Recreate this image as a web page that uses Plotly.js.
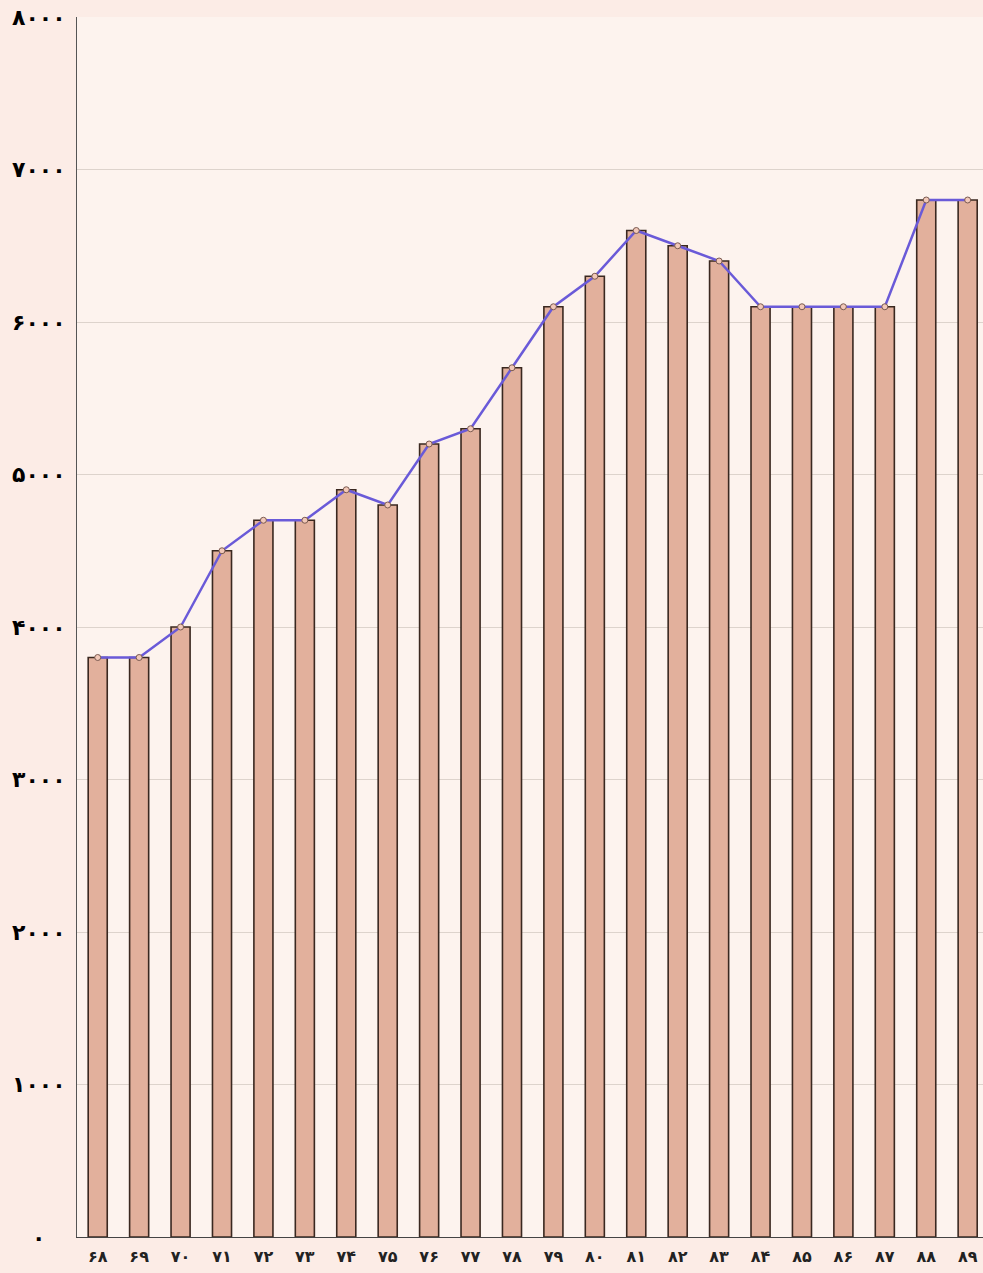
<!DOCTYPE html>
<html>
<head>
<meta charset="utf-8">
<script src="https://cdn.plot.ly/plotly-3.0.1.min.js"></script>
<style>html,body{margin:0;padding:0;background:#fcece6;overflow:hidden}</style>
</head>
<body>
<div id="chart" style="width:983px;height:1273px"></div>
<script>
const years = ['۶۸','۶۹','۷۰','۷۱','۷۲','۷۳','۷۴','۷۵','۷۶','۷۷','۷۸','۷۹','۸۰','۸۱','۸۲','۸۳','۸۴','۸۵','۸۶','۸۷','۸۸','۸۹'];
const values = [3800,3800,4000,4500,4700,4700,4900,4800,5200,5300,5700,6100,6300,6600,6500,6400,6100,6100,6100,6100,6800,6800];
const yTickVals = [0,1000,2000,3000,4000,5000,6000,7000,8000];
const yTickText = ['۰','۱۰۰۰','۲۰۰۰','۳۰۰۰','۴۰۰۰','۵۰۰۰','۶۰۰۰','۷۰۰۰','۸۰۰۰'];

const traces = [
  {
    type: 'bar', x: years, y: values, width: 0.46,
    marker: {color: '#e2b09c', line: {color: '#3a2820', width: 1.6}},
    hoverinfo: 'skip'
  },
  {
    type: 'scatter', mode: 'lines+markers', x: years, y: values,
    line: {color: '#6a5ad8', width: 2.5},
    marker: {size: 6, color: '#f2c8b8', line: {color: '#7a5a50', width: 1}}
  }
];
const annotations = yTickVals.map((v, i) => ({
  xref: 'paper', yref: 'y', x: -0.042, y: v,
  xanchor: 'center', yanchor: 'middle', showarrow: false,
  text: '<b>' + yTickText[i] + '</b>',
  font: {family: 'DejaVu Sans', size: 22, color: '#000'}
}));
const layout = {
  width: 983, height: 1273,
  margin: {l: 77, r: 0, t: 17, b: 36},
  paper_bgcolor: '#fcece6',
  plot_bgcolor: '#fdf3ee',
  showlegend: false,
  font: {family: 'DejaVu Sans', color: '#000'},
  annotations: annotations,
  xaxis: {
    type: 'category', range: [-0.5, 21.37],
    showgrid: false, zeroline: false,
    showline: true, linecolor: '#444', linewidth: 1.2,
    ticks: '', ticklen: 0, ticklabelstandoff: 5,
    tickfont: {family: 'DejaVu Sans', size: 16, color: '#222', weight: 'bold'},
    fixedrange: true
  },
  yaxis: {
    range: [0, 8000], tickvals: yTickVals, showticklabels: false,
    showgrid: true, gridcolor: '#ddd3cc', gridwidth: 1,
    zeroline: false,
    showline: true, linecolor: '#555', linewidth: 1.2, mirror: true,
    ticks: '',
    fixedrange: true
  }
};
Plotly.newPlot('chart', traces, layout, {displayModeBar: false, staticPlot: true});
</script>
</body>
</html>
